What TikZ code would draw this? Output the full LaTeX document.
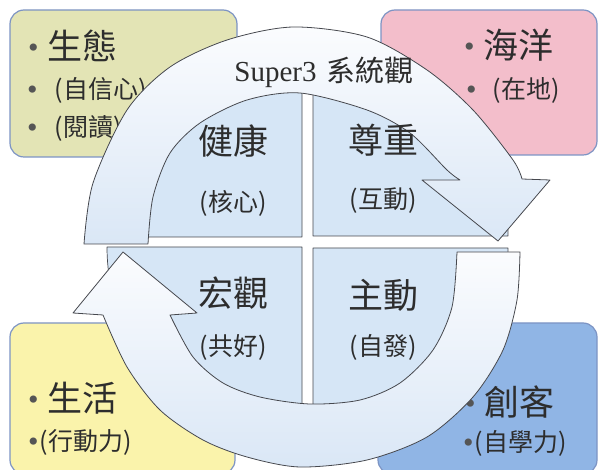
\documentclass[tikz,border=0pt]{standalone}
\usepackage{fontspec}
\setmainfont{Liberation Serif}
\newfontfamily\cjk{Noto Sans CJK TC}
\newcommand{\itemdot}[1]{\raisebox{#1}{\rmfamily\fontsize{30}{30}\selectfont\color{dotcolor}\textbullet}}

\begin{document}
\begin{tikzpicture}[x=1pt,y=-1pt,cap=round,join=round]
% Colors
\definecolor{ecocolor}{RGB}{227,228,181}
\definecolor{seacolor}{RGB}{243,190,203}
\definecolor{lifecolor}{RGB}{250,243,171}
\definecolor{makercolor}{RGB}{144,181,229}
\definecolor{framecolor}{RGB}{125,148,196}
\definecolor{quadcolor}{RGB}{214,230,246}
\definecolor{ringtop}{RGB}{251,252,254}
\definecolor{ringbottom}{RGB}{218,231,246}
\definecolor{inkcolor}{RGB}{45,45,45}
\definecolor{dotcolor}{RGB}{85,85,85}
\definecolor{edgecolor}{RGB}{70,72,78}
% Styles
\tikzstyle{corner box}=[draw=framecolor,line width=1.2pt,rounded corners=14pt]
\tikzstyle{quarter}=[fill=quadcolor,draw=edgecolor,line width=0.7pt]
\tikzstyle{ring arrow}=[top color=ringtop,bottom color=ringbottom,draw=edgecolor,line width=0.8pt]
\tikzstyle{big word}=[inkcolor,inner sep=0pt,font=\cjk\fontsize{35}{35}\selectfont]
\tikzstyle{small word}=[inkcolor,inner sep=0pt,font=\cjk\fontsize{25}{25}\selectfont]
\tikzstyle{box line}=[anchor=west]
% The graphic
\useasboundingbox (0,0) rectangle (598,470);
\clip (0,0) rectangle (598,470);
% corner boxes
\draw[corner box,fill=ecocolor] (10,10) rectangle (237,157);
\draw[corner box,fill=seacolor] (381,10) rectangle (597,155);
\draw[corner box,fill=lifecolor] (10,323) rectangle (235,474);
\draw[corner box,fill=makercolor] (378,323) rectangle (597,474);
\node[box line,big word] (eco) at (28,46) {\itemdot{2pt}\hspace{9pt}生態};
\node[box line,small word] (eco-a) at (27,90) {\itemdot{-1.5pt}\hspace{17pt}(自信心)};
\node[box line,small word] (eco-b) at (27,128) {\itemdot{-1.5pt}\hspace{17pt}(閱讀)};
\node[box line,big word] (sea) at (464,45) {\itemdot{2pt}\hspace{9pt}海洋};
\node[box line,small word] (sea-a) at (466,90) {\itemdot{-1.5pt}\hspace{16pt}(在地)};
\node[box line,big word] (life) at (28,398) {\itemdot{2pt}\hspace{9pt}生活};
\node[box line,small word] (life-a) at (28,442) {\itemdot{-1.5pt}\hspace{1pt}(行動力)};
\node[box line,big word] (maker) at (465,402) {\itemdot{2pt}\hspace{9pt}創客};
\node[box line,small word] (maker-a) at (463,443) {\itemdot{-1.5pt}\hspace{1pt}(自學力)};
% quarters
\filldraw[quarter] (302,237) -- (107,237) arc[start angle=180,end angle=270,radius=195] -- cycle;
\filldraw[quarter] (313,236) -- (313,41) arc[start angle=270,end angle=360,radius=195] -- cycle;
\filldraw[quarter] (302,247) -- (107,247) arc[start angle=180,end angle=90,radius=195] -- cycle;
\filldraw[quarter] (313,248) -- (508,248) arc[start angle=0,end angle=90,radius=195] -- cycle;
% the two ring arrows
\draw[ring arrow] plot[smooth] coordinates {(84,244) (93,183) (127,110) (170,67) (227,40) (293,27) (367,37) (427,70) (473,110) (513,160) (522,179)}
  -- (550,180) -- (498,241) -- (422,180) -- (460,180)
  -- plot[smooth] coordinates {(460,180) (447,170) (410,133) (367,110) (300,93) (247,100) (200,123) (170,153) (153,197) (148,244)} -- cycle;
\draw[ring arrow] plot[smooth] coordinates {(520,252) (517,300) (503,350) (473,397) (427,437) (367,460) (300,467) (247,457) (203,440) (160,410) (127,367) (103,315)}
  -- (73,313) -- (123,252) -- (197,313) -- (170,315)
  -- plot[smooth] coordinates {(170,315) (193,357) (223,383) (260,397) (310,404) (360,400) (400,383) (433,350) (452,307) (457,252)} -- cycle;
% labels
\node[inkcolor,inner sep=0pt,font=\fontsize{29}{29}\selectfont] (title) at (324,72) {Super3\hspace{10pt}{\cjk 系統觀}};
\foreach \name/\x/\y/\yy/\word/\note in {health/233/141/203/健康/(核心), respect/383/140/201/尊重/(互動), vision/233/293/347/宏觀/(共好), action/383/295/347/主動/(自發)}
{
  \node[big word] (\name) at (\x,\y) {\word};
  \node[small word] (\name-note) at (\x,\yy) {\note};
}
\end{tikzpicture}
\end{document}
